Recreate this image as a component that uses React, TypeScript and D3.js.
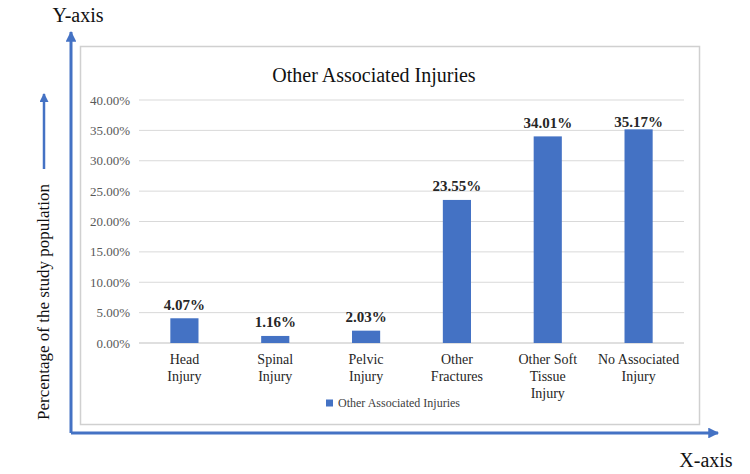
import React, { useEffect, useRef } from 'react';
import * as d3 from 'd3';

// categories (line breaks as in the original chart)
const categories: string[] = [
  'Head\nInjury',
  'Spinal\nInjury',
  'Pelvic\nInjury',
  'Other\nFractures',
  'Other Soft\nTissue\nInjury',
  'No Associated\nInjury',
];

const values: number[] = [0.0407, 0.0116, 0.0203, 0.2355, 0.3401, 0.3517];

const yTicks: number[] = [0, 0.05, 0.1, 0.15, 0.2, 0.25, 0.3, 0.35, 0.4];

const seriesName = 'Other Associated Injuries';
const chartTitle = 'Other Associated Injuries';
const yAxisTitle = 'Percentage of the study population';

const App: React.FC = () => {
  const svgRef = useRef<SVGSVGElement>(null);
  const width = 750;
  const height = 474;

  useEffect(() => {
    if (!svgRef.current) return;
    const svg = d3.select(svgRef.current);
    svg.selectAll('*').remove();

    const font = "'Liberation Serif', serif";
    const blue = '#4472C4';
    const plot = { left: 139, right: 684, top: 100, bottom: 343 };

    const x = d3.scaleBand<string>()
      .domain(categories)
      .range([plot.left, plot.right])
      .paddingInner(0.69)
      .paddingOuter(0.345);

    const y = d3.scaleLinear()
      .domain([0, 0.4])
      .range([plot.bottom, plot.top]);

    // outer decorations: axis arrows
    const defs = svg.append('defs');
    defs.append('marker')
      .attr('id', 'arrow')
      .attr('viewBox', '0 0 10 10')
      .attr('refX', 9)
      .attr('refY', 5)
      .attr('markerWidth', 4.2)
      .attr('markerHeight', 3.6)
      .attr('markerUnits', 'strokeWidth')
      .attr('orient', 'auto')
      .append('path')
      .attr('d', 'M0,0 L10,5 L0,10 z')
      .attr('fill', blue);

    svg.append('path')
      .attr('d', 'M71,433 L71,32')
      .attr('stroke', blue)
      .attr('stroke-width', 3)
      .attr('fill', 'none')
      .attr('marker-end', 'url(#arrow)');

    svg.append('path')
      .attr('d', 'M71,433 L718,433')
      .attr('stroke', blue)
      .attr('stroke-width', 3)
      .attr('fill', 'none')
      .attr('marker-end', 'url(#arrow)');

    svg.append('path')
      .attr('d', 'M44,169 L44,94')
      .attr('stroke', blue)
      .attr('stroke-width', 2.5)
      .attr('fill', 'none')
      .attr('marker-end', 'url(#arrow)');

    svg.append('text')
      .attr('x', 78)
      .attr('y', 22)
      .attr('text-anchor', 'middle')
      .style('font-family', font)
      .attr('font-size', 20)
      .attr('fill', '#111')
      .text('Y-axis');

    svg.append('text')
      .attr('x', 706)
      .attr('y', 467)
      .attr('text-anchor', 'middle')
      .style('font-family', font)
      .attr('font-size', 20)
      .attr('fill', '#111')
      .text('X-axis');

    svg.append('text')
      .attr('transform', 'translate(49,302) rotate(-90)')
      .attr('text-anchor', 'middle')
      .style('font-family', font)
      .attr('font-size', 17)
      .attr('fill', '#111')
      .text(yAxisTitle);

    // chart area box
    svg.append('rect')
      .attr('x', 80.5)
      .attr('y', 46.5)
      .attr('width', 619)
      .attr('height', 378)
      .attr('fill', '#fff')
      .attr('stroke', '#d0d0d0')
      .attr('stroke-width', 1.5);

    svg.append('text')
      .attr('x', 374)
      .attr('y', 82)
      .attr('text-anchor', 'middle')
      .style('font-family', font)
      .attr('font-size', 20)
      .attr('fill', '#111')
      .text(chartTitle);

    // gridlines and y tick labels
    const g = svg.append('g');
    g.selectAll('.grid')
      .data(yTicks)
      .enter()
      .append('line')
      .attr('x1', plot.left)
      .attr('x2', plot.right)
      .attr('y1', d => y(d))
      .attr('y2', d => y(d))
      .attr('stroke', d => (d === 0 ? '#bfbfbf' : '#d9d9d9'))
      .attr('stroke-width', 1);

    g.selectAll('.ytick')
      .data(yTicks)
      .enter()
      .append('text')
      .attr('x', 130)
      .attr('y', d => y(d))
      .attr('dy', '0.35em')
      .attr('text-anchor', 'end')
      .style('font-family', font)
      .attr('font-size', 13)
      .attr('fill', '#595959')
      .text(d => d3.format('.2%')(d));

    // bars
    g.selectAll('.bar')
      .data(values)
      .enter()
      .append('rect')
      .attr('x', (d, i) => x(categories[i]) as number)
      .attr('y', d => y(d))
      .attr('width', x.bandwidth())
      .attr('height', d => plot.bottom - y(d))
      .attr('fill', blue);

    // data labels
    g.selectAll('.value')
      .data(values)
      .enter()
      .append('text')
      .attr('x', (d, i) => (x(categories[i]) as number) + x.bandwidth() / 2)
      .attr('y', d => Math.max(y(d) - 14, plot.top + 22))
      .attr('dy', '0.35em')
      .attr('text-anchor', 'middle')
      .style('font-family', font)
      .attr('font-size', 15)
      .attr('font-weight', 'bold')
      .attr('fill', '#262626')
      .text(d => d3.format('.2%')(d));

    // category labels
    categories.forEach(c => {
      const lines = c.split('\n');
      const t = g.append('text')
        .attr('text-anchor', 'middle')
        .style('font-family', font)
        .attr('font-size', 14)
        .attr('fill', '#262626');
      lines.forEach((line, j) => {
        t.append('tspan')
          .attr('x', (x(c) as number) + x.bandwidth() / 2)
          .attr('y', 364 + j * 17)
          .text(line);
      });
    });

    // legend
    const legend = svg.append('g').attr('transform', 'translate(326,403)');
    legend.append('rect')
      .attr('x', 0)
      .attr('y', -3.5)
      .attr('width', 7)
      .attr('height', 7)
      .attr('fill', blue);
    legend.append('text')
      .attr('x', 12)
      .attr('y', 0)
      .attr('dy', '0.35em')
      .style('font-family', font)
      .attr('font-size', 12)
      .attr('fill', '#404040')
      .text(seriesName);
  }, []);

  return (
    <div style={{ position: 'absolute', left: 0, top: 0 }}>
      <svg ref={svgRef} width={width} height={height} style={{ display: 'block', background: '#fff' }} />
    </div>
  );
};

export default App;
